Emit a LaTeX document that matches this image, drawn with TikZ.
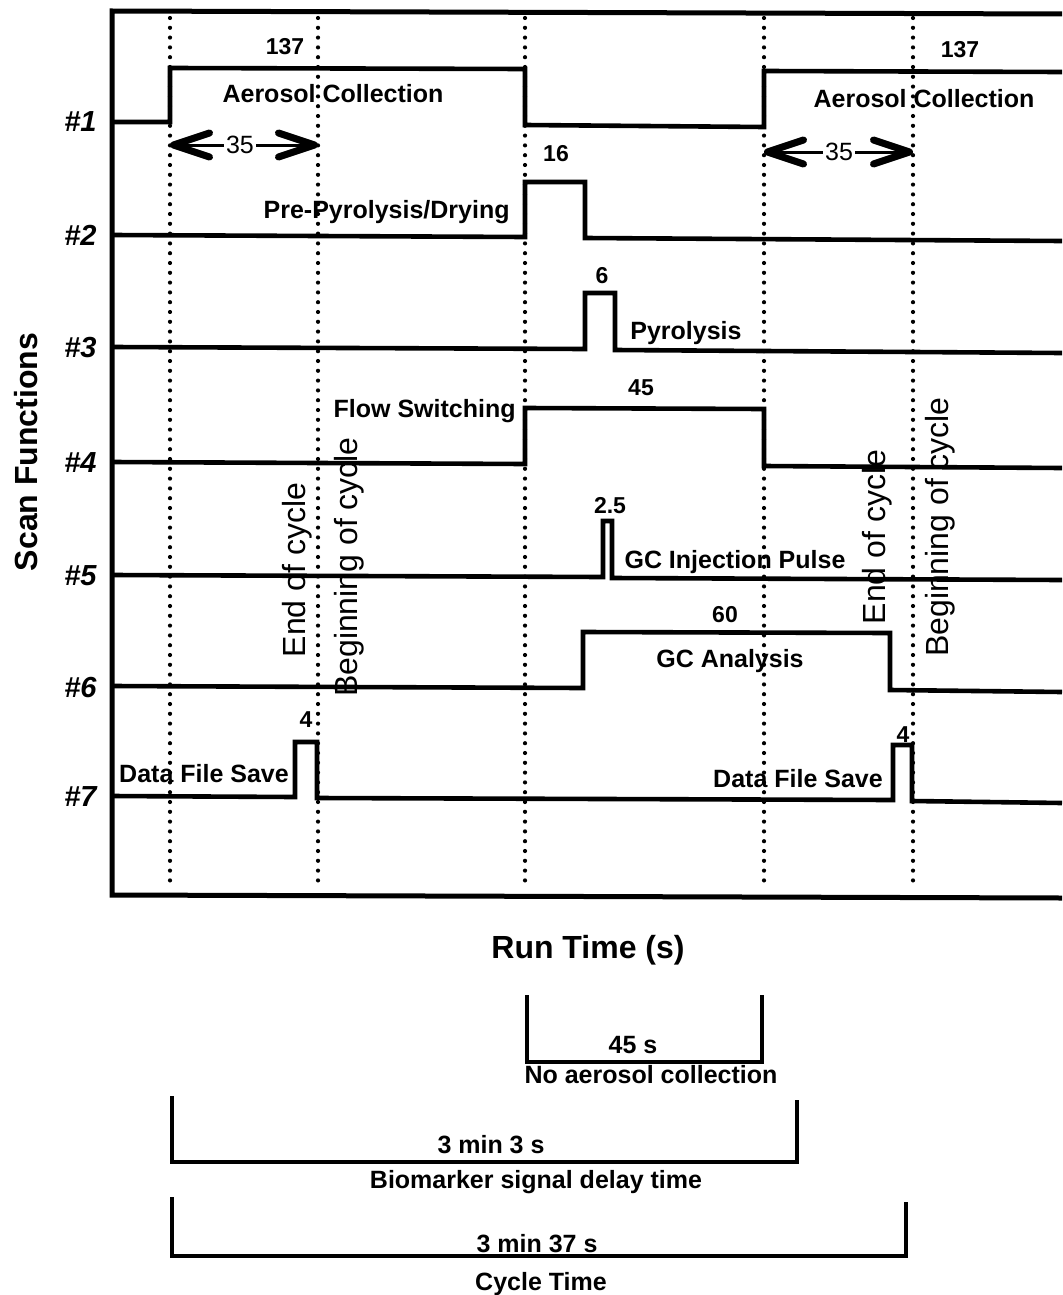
\documentclass[tikz,border=0pt]{standalone}
\usepackage{fontspec}
\setmainfont{Liberation Sans}
\usetikzlibrary{arrows.meta}
\newcommand{\lblfont}{\bfseries\fontsize{12.5}{15}\selectfont}
\newcommand{\numfont}{\bfseries\fontsize{11.5}{14}\selectfont}

\begin{document}
\begin{tikzpicture}[x=0.5pt, y=-0.5pt,
    signal/.style={line width=2.3pt, line join=miter},
    dotline/.style={line width=2.1pt, line cap=round, dash pattern=on 0pt off 4.9pt},
    bracket/.style={line width=1.8pt},
    lbl/.style={font=\lblfont, anchor=base, inner sep=0pt},
    num/.style={font=\numfont, anchor=base, inner sep=0pt},
    cyc/.style={font=\fontsize{16}{19}\selectfont, rotate=90, anchor=base, inner sep=0pt},
    dimarrow/.style={line width=1.5pt, -{Straight Barb[length=18pt, width=12pt, line width=3.5pt, round]}}]
    \useasboundingbox (0,0) rectangle (1062,1295);

    % --- Frame ---
    \draw[line width=2.5pt] (1062,14) -- (112,11) -- (112,895) -- (1062,898);

    % --- Event times (dotted) ---
    \foreach \t/\nm in {170/tA, 318/tB, 525/tC, 764/tD, 913/tE} {
        \coordinate (\nm) at (\t,18);
        \draw[dotline] (\nm) -- (\t,890);
    }

    % --- Axis labels ---
    \node[font=\bfseries\fontsize{16}{19}\selectfont, rotate=90] (scanlbl) at (26,452) {Scan Functions};
    \node[font=\bfseries\fontsize{16}{19}\selectfont, anchor=base] (runlbl) at (588,958) {Run Time (s)};
    \foreach \k/\y in {1/122, 2/235, 3/348, 4/463, 5/576, 6/688, 7/797}
        \node[font=\bfseries\itshape\fontsize{14.5}{17}\selectfont, anchor=east, inner sep=0pt] (row\k) at (97,\y) {\#\k};

    % --- Waveforms ---
    \draw[signal] (112,122) -- (170,122) -- (170,68) -- (525,69) -- (525,125) -- (764,127) -- (764,71) -- (1062,72);
    \draw[signal] (112,235) -- (525,237) -- (525,182) -- (585,182) -- (585,238) -- (1062,241);
    \draw[signal] (112,347) -- (585,349) -- (585,293) -- (615,293) -- (615,350) -- (1062,353);
    \draw[signal] (112,462) -- (525,464) -- (525,408) -- (764,409) -- (764,466) -- (1062,468);
    \draw[signal] (112,575) -- (603,577) -- (603,521) -- (612,521) -- (612,578) -- (1062,580);
    \draw[signal] (112,686) -- (583,688) -- (583,632) -- (890,633) -- (890,690) -- (1062,692);
    \draw[signal] (112,796) -- (295,797) -- (295,742) -- (317,742) -- (317,798) -- (893,800)
        -- (893,745) -- (912,745) -- (912,801) -- (1062,803);

    % --- Durations and names ---
    \node[num] (d137a) at (285,55) {137};
    \node[lbl] (aeroa) at (333,103) {Aerosol Collection};
    \node[num] (d137b) at (960,58) {137};
    \node[lbl] (aerob) at (924,108) {Aerosol Collection};
    \node[num] (d16) at (556,162) {16};
    \node[lbl, anchor=base east] (prepyro) at (510,218) {Pre-Pyrolysis/Drying};
    \node[num] (d6) at (602,283) {6};
    \node[lbl, anchor=base west] (pyro) at (630,339) {Pyrolysis};
    \node[lbl, anchor=base east] (flow) at (516,417) {Flow Switching};
    \node[num] (d45) at (641,395) {45};
    \node[num] (d25) at (610,513) {2.5};
    \node[lbl] (inject) at (735,568) {GC Injection Pulse};
    \node[num] (d60) at (725,622) {60};
    \node[lbl] (gcan) at (730,667) {GC Analysis};
    \node[lbl] (savea) at (204,782) {Data File Save};
    \node[num] (d4a) at (306,727) {4};
    \node[lbl] (saveb) at (798,787) {Data File Save};
    \node[num] (d4b) at (903,742) {4};

    % --- 35 s spans ---
    \node[font=\fontsize{12.5}{15}\selectfont, inner sep=1pt] (d35a) at (240,145) {35};
    \draw[dimarrow] (d35a) -- (tA |- d35a);
    \draw[dimarrow] (d35a) -- (tB |- d35a);
    \node[font=\fontsize{12.5}{15}\selectfont, inner sep=1pt] (d35b) at (839,152) {35};
    \draw[dimarrow] (d35b) -- (tD |- d35b);
    \draw[dimarrow] (d35b) -- (tE |- d35b);

    % --- Cycle markers ---
    \node[cyc] (enda) at (305,570) {End of cycle};
    \node[cyc] (bega) at (357,567) {Beginning of cycle};
    \node[cyc] (endb) at (885,537) {End of cycle};
    \node[cyc] (begb) at (948,527) {Beginning of cycle};

    % --- Brackets below ---
    \draw[bracket] (527,995) |- (762,1062) -- (762,995);
    \node[lbl] (t45) at (633,1053) {45 s};
    \node[lbl] (noaero) at (651,1083) {No aerosol collection};
    \draw[bracket] (172,1096) |- (797,1162) -- (797,1100);
    \node[lbl] (t303) at (491,1153) {3 min 3 s};
    \node[lbl] (delay) at (536,1188) {Biomarker signal delay time};
    \draw[bracket] (172,1197) |- (906,1256) -- (906,1202);
    \node[lbl] (t337) at (537,1252) {3 min 37 s};
    \node[lbl] (cycle) at (541,1290) {Cycle Time};
\end{tikzpicture}
\end{document}
